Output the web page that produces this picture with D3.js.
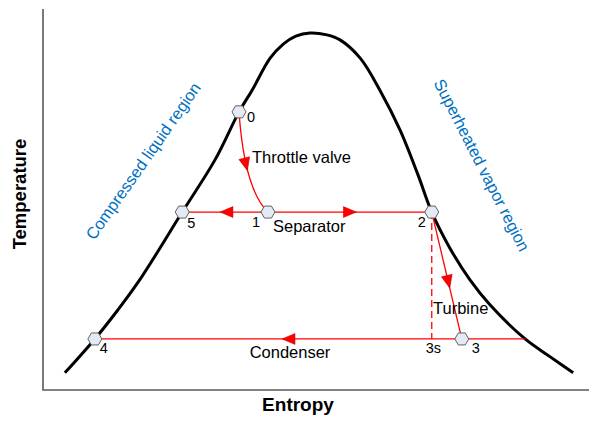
<!DOCTYPE html>
<html>
<head>
<meta charset="utf-8">
<script src="https://cdn.jsdelivr.net/npm/d3@7"></script>
<style>
  body { margin: 0; background: #fff; }
  svg { display: block; font-family: "Liberation Sans", Arial, sans-serif; }
</style>
</head>
<body>
<svg width="589" height="423"></svg>
<script>
// saturation dome, [entropy, temperature] in arbitrary units
const dome = [
  [0.40, 0.45], [0.95, 1.34], [1.37, 2.10], [1.78, 2.91], [2.55, 4.67],
  [3.15, 6.04], [3.59, 7.30], [3.83, 7.87], [4.16, 8.71], [4.40, 9.08],
  [4.63, 9.29], [4.89, 9.37], [5.20, 9.32], [5.44, 9.19], [5.81, 8.71],
  [6.17, 7.87], [6.54, 6.82], [6.87, 5.64], [7.12, 4.67], [7.45, 3.73],
  [7.82, 2.89], [8.19, 2.23], [8.83, 1.34], [9.29, 0.87], [9.71, 0.45]
];

// cycle states
const stateNames = ["0", "1", "2", "3", "3s", "4", "5"];
const stateS = [3.59, 4.12, 7.12, 7.67, 7.12, 0.95, 2.55];
const stateT = [7.30, 4.67, 4.67, 1.34, 1.34, 1.34, 4.67];
const condEnd = [8.83, 1.34];          // condenser line meets the dome
const throttleCtrl = [[3.65, 6.04], [3.80, 5.12]];

const regionLabels = ["Compressed liquid region", "Superheated vapor region"];
const processLabels = ["Throttle valve", "Separator", "Turbine", "Condenser"];

const svg = d3.select("svg");
const x = d3.scaleLinear().domain([0, 10]).range([43, 589]);
const y = d3.scaleLinear().domain([0, 10]).range([390, 9]);

const st = {};
stateNames.forEach((n, i) => st[n] = [stateS[i], stateT[i]]);
const P = d => [x(d[0]), y(d[1])];

// axes (plain lines, no ticks)
svg.append("path")
  .attr("d", `M${x(0)},${y(10)}V${y(0)}H${x(10)}`)
  .attr("fill", "none")
  .attr("stroke", "#5a5a5a")
  .attr("stroke-width", 1.6);

svg.append("text")
  .attr("transform", `translate(26,194) rotate(-90)`)
  .attr("text-anchor", "middle")
  .attr("font-size", 18.5).attr("font-weight", "bold")
  .text("Temperature");

svg.append("text")
  .attr("x", 298).attr("y", 411)
  .attr("text-anchor", "middle")
  .attr("font-size", 19).attr("font-weight", "bold")
  .text("Entropy");

// dome
svg.append("path")
  .datum(dome)
  .attr("d", d3.line().x(d => x(d[0])).y(d => y(d[1])).curve(d3.curveCatmullRom))
  .attr("fill", "none")
  .attr("stroke", "#000")
  .attr("stroke-width", 3);

// processes
const red = "#ff0000";
const lineGen = d3.line().x(d => x(d[0])).y(d => y(d[1]));

function throttlePath() {
  const p = d3.path();
  const a = P(st["0"]), c1 = P(throttleCtrl[0]), c2 = P(throttleCtrl[1]), b = P(st["1"]);
  p.moveTo(a[0], a[1]);
  p.bezierCurveTo(c1[0], c1[1], c2[0], c2[1], b[0], b[1]);
  return p.toString();
}

const processes = [
  { d: throttlePath(), arrow: 0.56 },
  { d: lineGen([st["1"], st["5"]]), arrow: 0.56 },
  { d: lineGen([st["1"], st["2"]]), arrow: 0.54 },
  { d: lineGen([st["2"], st["3"]]), arrow: 0.60 },
  { d: lineGen([condEnd, st["4"]]), arrow: 0.565 }
];

svg.append("path")
  .attr("d", lineGen([st["2"], st["3s"]]))
  .attr("stroke", red).attr("stroke-width", 1.3)
  .attr("stroke-dasharray", "7,4")
  .attr("fill", "none");

const procG = svg.append("g");
processes.forEach(pr => {
  const path = procG.append("path")
    .attr("d", pr.d)
    .attr("fill", "none")
    .attr("stroke", red)
    .attr("stroke-width", 1.3);
  const node = path.node();
  const len = node.getTotalLength();
  const tip = node.getPointAtLength(len * pr.arrow);
  const back = node.getPointAtLength(len * pr.arrow - 2);
  const ang = Math.atan2(tip.y - back.y, tip.x - back.x) * 180 / Math.PI;
  procG.append("path")
    .attr("d", "M0,0L-13,-5.5L-13,5.5Z")
    .attr("transform", `translate(${tip.x},${tip.y}) rotate(${ang})`)
    .attr("fill", red)
    .attr("stroke", "#c00000")
    .attr("stroke-width", 0.5);
});

// state markers
const hex = "M-7,0L-3.5,-6L3.5,-6L7,0L3.5,6L-3.5,6Z";
const labelOff = { "0": [8, 10], "1": [-16, 15], "2": [-14, 15], "3": [10, 14], "3s": [-6, 14], "4": [5, 14], "5": [5, 16] };
const markerStates = ["0", "1", "2", "3", "4", "5"];

svg.append("g").selectAll("path")
  .data(markerStates)
  .join("path")
  .attr("d", hex)
  .attr("transform", n => `translate(${P(st[n])})`)
  .attr("fill", "#e4eaf3")
  .attr("stroke", "#606060")
  .attr("stroke-width", 1);

svg.append("g").selectAll("text")
  .data(stateNames)
  .join("text")
  .attr("x", n => x(st[n][0]) + labelOff[n][0])
  .attr("y", n => y(st[n][1]) + labelOff[n][1])
  .attr("font-size", 14.5)
  .text(n => n);

// process labels
const procPos = [[252, 163, "start"], [273, 232, "start"], [433, 314, "start"], [290, 358, "middle"]];
svg.append("g").selectAll("text")
  .data(processLabels)
  .join("text")
  .attr("x", (d, i) => procPos[i][0])
  .attr("y", (d, i) => procPos[i][1])
  .attr("text-anchor", (d, i) => procPos[i][2])
  .attr("font-size", 16.5)
  .text(d => d);

// region labels
const regionPos = [[143, 161, -55], [482, 165, 63]];
svg.append("g").selectAll("text")
  .data(regionLabels)
  .join("text")
  .attr("transform", (d, i) => `translate(${regionPos[i][0]},${regionPos[i][1]}) rotate(${regionPos[i][2]})`)
  .attr("text-anchor", "middle")
  .attr("dominant-baseline", "central")
  .attr("font-size", 16.5)
  .attr("fill", "#0070c0")
  .text(d => d);
</script>
</body>
</html>
